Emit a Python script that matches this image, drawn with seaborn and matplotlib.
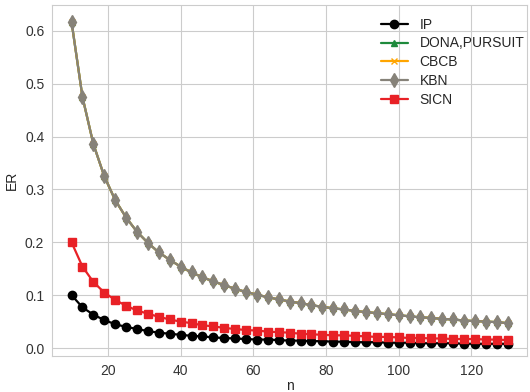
import numpy as np
import pandas as pd
import matplotlib
matplotlib.use("Agg")
import matplotlib.pyplot as plt
import seaborn as sns

sns.set_style("whitegrid")
plt.rcParams['font.family'] = ['Liberation Sans', 'DejaVu Sans']

# datos
n = [10, 13, 16, 19, 22, 25, 28, 31, 34, 37, 40, 43, 46, 49, 52, 55, 58, 61, 64, 67, 70,
     73, 76, 79, 82, 85, 88, 91, 94, 97, 100, 103, 106, 109, 112, 115, 118, 121, 124, 127, 130]

ip = [0.100, 0.077, 0.063, 0.053, 0.045, 0.040, 0.036, 0.032, 0.029, 0.027, 0.025, 0.023,
      0.022, 0.020, 0.019, 0.018, 0.017, 0.016, 0.016, 0.015, 0.014, 0.014, 0.013, 0.013,
      0.012, 0.012, 0.011, 0.011, 0.011, 0.010, 0.010, 0.010, 0.009, 0.009, 0.009, 0.009,
      0.008, 0.008, 0.008, 0.008, 0.008]

kbn = [0.617, 0.475, 0.386, 0.325, 0.280, 0.247, 0.220, 0.199, 0.181, 0.167, 0.154, 0.143,
       0.134, 0.126, 0.119, 0.112, 0.106, 0.101, 0.096, 0.092, 0.088, 0.085, 0.081, 0.078,
       0.075, 0.073, 0.070, 0.068, 0.066, 0.064, 0.062, 0.060, 0.058, 0.057, 0.055, 0.054,
       0.052, 0.051, 0.050, 0.049, 0.047]
dona = list(kbn)
cbcb = list(kbn)

sicn = [0.200, 0.154, 0.125, 0.105, 0.091, 0.080, 0.071, 0.065, 0.059, 0.054, 0.050, 0.047,
        0.043, 0.041, 0.038, 0.036, 0.034, 0.033, 0.031, 0.030, 0.029, 0.027, 0.026, 0.025,
        0.024, 0.024, 0.023, 0.022, 0.021, 0.021, 0.020, 0.019, 0.019, 0.018, 0.018, 0.017,
        0.017, 0.017, 0.016, 0.016, 0.015]

# nombre, valores, color, marcador, tamaño
series = [
    ("IP", ip, "black", "o", 6),
    ("DONA,PURSUIT", dona, "#1e8a3c", "^", 4.5),
    ("CBCB", cbcb, "orange", "x", 4.5),
    ("KBN", kbn, "#868279", "d", 7),
    ("SICN", sicn, "#e82126", "s", 5.5),
]

fig, ax = plt.subplots(figsize=(5.3, 3.92), dpi=100)

for name, vals, col, mk, ms in series:
    sns.lineplot(x=n, y=vals, ax=ax, label=name, color=col, marker=mk,
                 markersize=ms, markeredgecolor=col, markeredgewidth=1, linewidth=1.6)

ax.set_xlim(4.6, 135.4)
ax.set_ylim(-0.015, 0.649)
ax.set_xticks([20, 40, 60, 80, 100, 120])
ax.set_yticks([0.0, 0.1, 0.2, 0.3, 0.4, 0.5, 0.6])
ax.tick_params(labelsize=10, colors='#333333', pad=2)
ax.set_xlabel("n", fontsize=10, labelpad=1)
ax.set_ylabel("ER", fontsize=10)
for s in ax.spines.values():
    s.set_color('#cccccc')

ax.legend(loc='upper right', frameon=False, fontsize=10, bbox_to_anchor=(1.02, 1.0),
          labelspacing=0.35)

plt.subplots_adjust(left=0.098, right=0.995, top=0.987, bottom=0.092)
plt.savefig("out.png", dpi=100)
